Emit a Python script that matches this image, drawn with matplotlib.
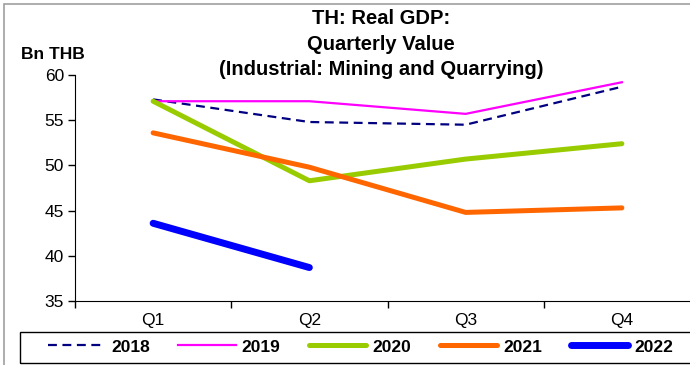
import numpy as np
import matplotlib.pyplot as plt
from matplotlib.patches import Rectangle

plt.rcParams['font.family'] = ['Liberation Sans', 'DejaVu Sans']

quarters = ["Q1", "Q2", "Q3", "Q4"]
gdp_2018 = [57.3, 54.8, 54.5, 58.7]
gdp_2019 = [57.1, 57.1, 55.7, 59.2]
gdp_2020 = [57.1, 48.3, 50.7, 52.4]
gdp_2021 = [53.6, 49.8, 44.8, 45.3]
gdp_2022 = [43.6, 38.7]

fig = plt.figure(figsize=(6.9, 3.65), dpi=100)
ax = fig.add_axes([75 / 690, 1 - 301 / 365, 625 / 690, 226 / 365])

x = np.arange(len(quarters))
ax.plot(x, gdp_2018, color="#000080", lw=1.6, ls=(0, (4, 2.5)), label="2018")
ax.plot(x, gdp_2019, color="#ff00ff", lw=1.6, label="2019")
ax.plot(x, gdp_2020, color="#99cc00", lw=3.6, solid_capstyle="round", label="2020")
ax.plot(x, gdp_2021, color="#ff6600", lw=3.6, solid_capstyle="round", label="2021")
ax.plot(x[:len(gdp_2022)], gdp_2022, color="#0000ff", lw=5, solid_capstyle="round", label="2022")

ax.set_xlim(-0.5, 3.5)
ax.set_ylim(35, 60)
ax.set_yticks(range(35, 61, 5))
ax.set_xticks(np.arange(-0.5, 3.6, 1))
ax.set_xticklabels([])
ax.set_xticks(x, minor=True)
ax.set_xticklabels(quarters, minor=True)
ax.tick_params(axis="x", which="minor", length=0, pad=9, labelsize=12.5)
ax.tick_params(axis="x", which="major", direction="out", length=5, width=1)
ax.tick_params(axis="y", direction="out", length=5, width=1, labelsize=12.5, pad=3)
for side in ("top", "right"):
    ax.spines[side].set_visible(False)

fig.text(381 / 690, 1 - 44 / 365, "TH: Real GDP:\nQuarterly Value\n(Industrial: Mining and Quarrying)",
         ha="center", va="center", fontsize=14.5, fontweight="bold", linespacing=1.42)
fig.text(21 / 690, 1 - 59 / 365, "Bn THB", ha="left", va="baseline", fontsize=12.5, fontweight="bold")

leg = fig.legend(loc="center left", bbox_to_anchor=(32 / 690, 1 - 347 / 365), ncol=5, frameon=False,
                 handlelength=3.3, columnspacing=1.65, handletextpad=0.35,
                 prop={"weight": "bold", "size": 12.5})

# legend box runs off the right edge
fig.add_artist(Rectangle((20 / 690, 1 - 363 / 365), 700 / 690, 31 / 365, transform=fig.transFigure,
                         fill=False, edgecolor="black", lw=1))
# grey outer border of the chart area
fig.add_artist(Rectangle((4 / 690, -0.1), 2, 1.1 - 4 / 365, transform=fig.transFigure,
                         fill=False, edgecolor="#a0a0a0", lw=1.2))

fig.savefig("out.png", dpi=100)
